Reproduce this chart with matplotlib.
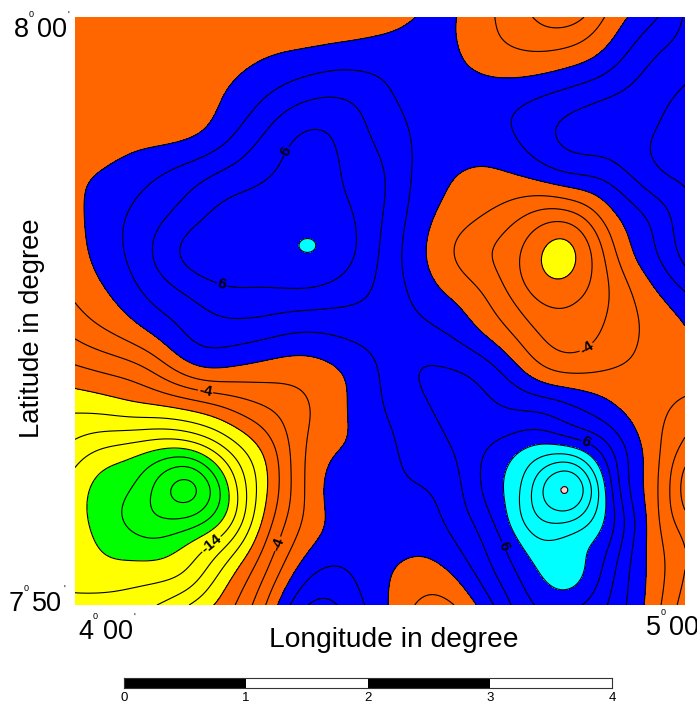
import numpy as np
import matplotlib
matplotlib.use("Agg")
import matplotlib.pyplot as plt
import matplotlib.tri as tri

plt.rcParams['font.family'] = ['Liberation Sans', 'DejaVu Sans']

# grid nodes of the map
lon = np.linspace(4.0, 5.0, 17)
lat = np.linspace(8.0, 7.0 + 50.0 / 60.0, 16)

# values, first row is the northern edge
row_00 = [-1.2, -1.2, -1.2, -1.3, -1.4, -1.6, -2.0, -1.6, -1.0, 0.1, 0.1, -2.0, -4.0, -5.0, -1.5, 1.2, 4.2]
row_01 = [-1.0, -1.0, -1.0, -1.0, -0.8, -0.1, 0.5, 1.0, 1.1, 0.9, 0.2, -1.2, -1.7, -1.1, 0.8, 3.6, 5.0]
row_02 = [-1.0, -1.0, -1.0, -0.8, 0.1, 1.9, 3.5, 3.9, 2.6, 1.2, 0.9, 1.0, 1.7, 2.8, 3.9, 5.0, 6.4]
row_03 = [-1.0, -0.9, -0.7, -0.4, 1.5, 4.2, 6.3, 5.6, 3.4, 1.7, 1.0, 1.3, 3.0, 4.7, 5.2, 5.8, 7.2]
row_04 = [-0.4, 0.4, 1.6, 3.0, 4.5, 5.8, 6.6, 6.0, 4.4, 1.5, 0.0, -0.3, 0.6, 2.1, 2.8, 5.3, 6.5]
row_05 = [-0.5, 1.4, 3.1, 5.0, 6.7, 7.0, 7.3, 6.5, 4.3, 1.1, -0.9, -2.3, -4.2, -4.5, -0.6, 2.2, 5.3]
row_06 = [-0.8, 1.4, 4.0, 6.8, 7.2, 7.3, 8.2, 7.1, 3.9, 0.6, -2.3, -4.2, -7.3, -8.9, -3.0, 1.2, 4.8]
row_07 = [-1.6, 0.3, 2.6, 4.4, 5.8, 5.8, 5.8, 5.0, 3.6, 1.3, -0.6, -2.9, -6.4, -7.0, -4.1, -0.8, 2.0]
row_08 = [-3.4, -1.7, 0.3, 2.4, 3.2, 2.8, 2.1, 2.5, 3.0, 2.7, 1.4, -1.0, -3.8, -5.2, -3.6, -1.7, -0.2]
row_09 = [-6.4, -5.5, -3.9, -0.7, -0.2, -0.9, -1.1, 0.0, 2.1, 4.1, 4.1, 2.4, -1.0, -2.6, -2.0, -1.5, -0.7]
row_10 = [-9.7, -9.2, -8.6, -7.8, -6.1, -4.2, -2.4, -0.3, 1.8, 3.5, 4.8, 4.3, 3.8, 2.5, 0.6, -1.2, -2.7]
row_11 = [-12.7, -14.4, -15.6, -15.8, -11.7, -7.4, -2.1, 0.0, 1.2, 2.8, 4.2, 6.4, 8.4, 8.3, 4.4, -0.5, -4.6]
row_12 = [-14.9, -17.3, -19.9, -23.4, -16.4, -8.4, -2.0, 1.1, 1.6, 1.9, 3.4, 7.3, 12.2, 17.15, 6.8, -0.4, -7.0]
row_13 = [-15.1, -17.4, -19.2, -18.4, -14.6, -6.9, -1.6, 0.8, 1.4, 1.1, 2.6, 5.8, 10.9, 11.0, 7.2, -0.1, -4.8]
row_14 = [-14.7, -15.7, -15.6, -14.2, -9.5, -4.5, 0.7, 2.0, 0.6, -0.5, 0.8, 4.3, 7.9, 9.2, 5.2, -0.1, -3.9]
row_15 = [-13.6, -13.0, -12.3, -10.0, -6.8, -2.1, 3.9, 3.8, 0.7, -2.3, -2.0, 2.1, 6.0, 6.6, 3.9, -0.3, -5.0]
values = np.array([row_00, row_01, row_02, row_03, row_04, row_05, row_06, row_07,
                   row_08, row_09, row_10, row_11, row_12, row_13, row_14, row_15])

fill_levels = [-26, -16, -8, 0, 8, 16, 20]
fill_colors = ['#00FF00', '#FFFF00', '#FF6600', '#0000FF', '#00FFFF', '#FFD0D0']
line_levels = np.arange(-22, 18, 2)

# contour labels as they are printed on the map
label_text = {-4: '-4', -14: '-14', 6: '6'}
label_lon = [4.213, 4.225, 4.338, 4.354, 4.238, 4.836, 4.839, 4.693]
label_lat = [7.8929, 7.8503, 7.8503, 7.9612, 7.9226, 7.9070, 7.8798, 7.8492]

scale_ticks = [0, 1, 2, 3, 4]
scale_colors = ['black', 'white', 'black', 'white']

W, H = 697, 704


def px_axes(fig, x0, y0, x1, y1):
    return fig.add_axes([x0 / W, 1 - y1 / H, (x1 - x0) / W, (y1 - y0) / H])


def deg_label(fig, x, y, deg, minutes, gap=23, prime=True):
    # degree sign and minute mark are small raised pieces in the original
    big = 19.5
    fig.text(x / W, 1 - y / H, deg, fontsize=big, va='baseline', ha='left')
    fig.text((x + 15) / W, 1 - (y - 20) / H, '0', fontsize=6.5, va='baseline', ha='left')
    fig.text((x + gap) / W, 1 - y / H, minutes, fontsize=big, va='baseline', ha='left')
    if prime:
        fig.text((x + gap + 31) / W, 1 - (y - 18) / H, "'", fontsize=7, va='baseline', ha='left')


def smooth(z, sigma):
    # light gaussian smoothing so the hand read grid gives clean contour lines
    r = int(3 * sigma)
    k = np.exp(-0.5 * (np.arange(-r, r + 1) / sigma) ** 2)
    k = k / k.sum()
    z = np.pad(z, r, mode='reflect', reflect_type='odd')
    z = np.apply_along_axis(lambda m: np.convolve(m, k, mode='same'), 0, z)
    z = np.apply_along_axis(lambda m: np.convolve(m, k, mode='same'), 1, z)
    return z[r:-r, r:-r]


fig = plt.figure(figsize=(W / 100, H / 100), dpi=100)
ax = px_axes(fig, 75, 17, 685, 605)

LON, LAT = np.meshgrid(lon, lat)
triang = tri.Triangulation(LON.ravel(), LAT.ravel())
interp = tri.CubicTriInterpolator(triang, values.ravel(), kind='min_E')

lon_f = np.linspace(lon[0] + 1e-7, lon[-1] - 1e-7, 306)
lat_f = np.linspace(lat[-1] + 1e-7, lat[0] - 1e-7, 295)
LON_f, LAT_f = np.meshgrid(lon_f, lat_f)
val_f = smooth(np.ma.filled(interp(LON_f, LAT_f), 0.0), 5)

ax.contourf(lon_f, lat_f, val_f, levels=fill_levels, colors=fill_colors)
lines = ax.contour(lon_f, lat_f, val_f, levels=line_levels, colors='black',
                   linewidths=0.8, linestyles='solid')
labels = ax.clabel(lines, fmt=lambda v: label_text.get(int(v), '%d' % v), fontsize=11,
                   manual=list(zip(label_lon, label_lat)), inline=True, inline_spacing=1)
for t in labels:
    t.set_fontweight('bold')

ax.set_xlim(lon[0], lon[-1])
ax.set_ylim(lat[-1], lat[0])
ax.axis('off')

fig.text(393.5 / W, 1 - 647 / H, 'Longitude in degree', fontsize=20.3, ha='center', va='baseline')
fig.text(45 / W, 1 - 328 / H, 'Latitude in degree', fontsize=19.8, rotation=90, ha='right', va='center')
deg_label(fig, 14, 37, '8', '00')
deg_label(fig, 9, 611, '7', '50')
deg_label(fig, 78, 639, '4', '00', gap=25)
deg_label(fig, 646, 635, '5', '00', prime=False)

# scale bar
bar = px_axes(fig, 124, 678, 612, 688)
for i, c in enumerate(scale_colors):
    bar.barh(0, 1, left=scale_ticks[i], height=1, color=c, edgecolor='none')
bar.set_xlim(0, 4)
bar.set_ylim(-0.5, 0.5)
bar.set_yticks([])
bar.set_xticks(scale_ticks)
bar.tick_params(axis='x', length=0, pad=3, labelsize=9.5)
for s in bar.spines.values():
    s.set_linewidth(0.8)
    s.set_color('#333333')

fig.savefig('out.png', dpi=100)
